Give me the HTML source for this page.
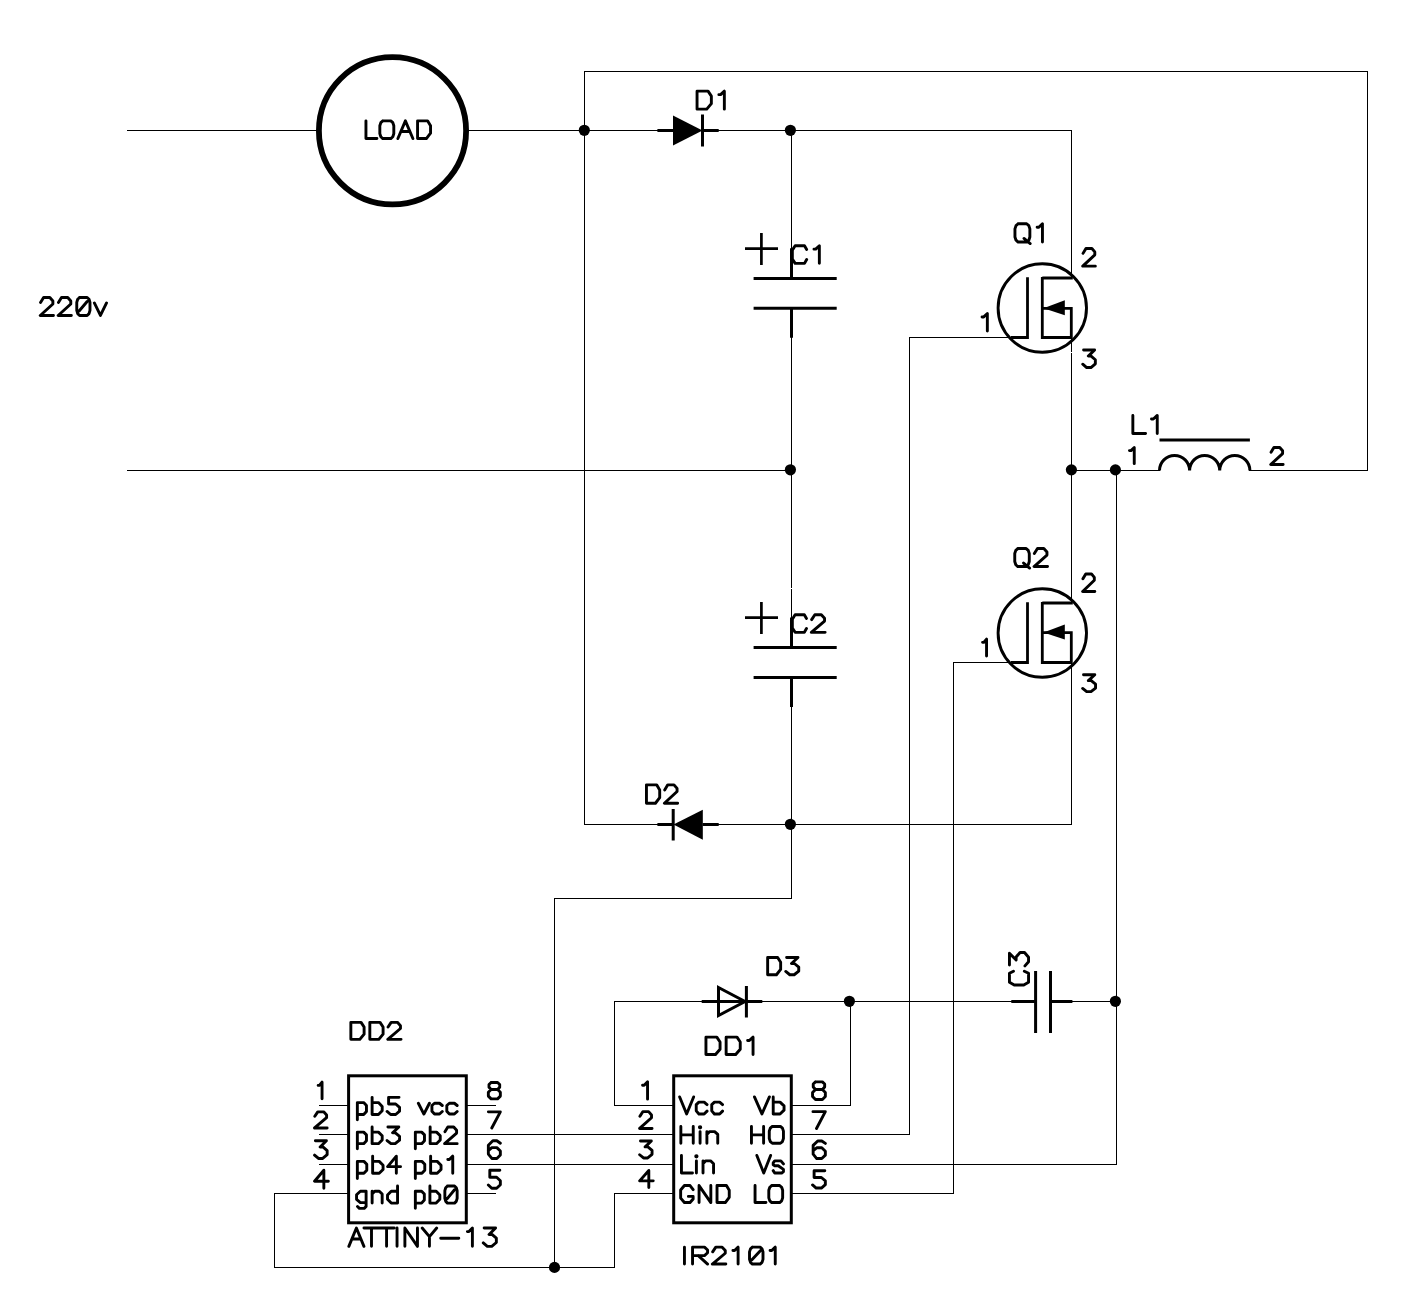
<!DOCTYPE html>
<html><head><meta charset="utf-8"><style>
html,body{margin:0;padding:0;background:#fff;overflow:hidden;}
svg{display:block;}
text{font-family:"Liberation Sans",sans-serif;fill:#000;}
</style></head><body>
<svg width="1410" height="1313" viewBox="0 0 1410 1313">
<rect width="1410" height="1313" fill="#fff"/>
<path d="M127 130.5H317M468 130.5H658M718 130.5H1072M584 71.5H1368M127 470.5H792M1071 470.5H1160M1249 470.5H1368M909 337.5H1012M953 662.5H1012M584 824.5H658M718 824.5H1072M554 898.5H792M614 1001.5H702M762 1001.5H1012M1072 1001.5H1117M319 1105.5H349M319 1134.5H349M319 1164.5H349M274 1193.5H349M466 1105.5H496M466 1134.5H674M466 1164.5H674M466 1193.5H496M614 1105.5H674M614 1193.5H674M791 1105.5H851M791 1134.5H910M791 1164.5H1117M791 1193.5H954M274 1267.5H615M584.5 71V825M791.5 130V249M791.5 337V618M791.5 706V899M1071.5 130V279M1071.5 337V604M1071.5 662V825M1367.5 71V471M1116.5 470V1165M909.5 337V1135M953.5 662V1194M554.5 898V1268M614.5 1001V1106M614.5 1193V1268M850.5 1001V1106M274.5 1193V1268" stroke="#000" stroke-width="1" fill="none" shape-rendering="crispEdges"/>
<path d="M791 588h1v1h-1zM1071 352h1v1h-1z" fill="#fff"/>
<circle cx="584.3" cy="130.3" r="5.6" fill="#000"/>
<circle cx="790.4" cy="130.3" r="5.6" fill="#000"/>
<circle cx="790.4" cy="469.8" r="5.6" fill="#000"/>
<circle cx="1071.4" cy="469.85" r="5.6" fill="#000"/>
<circle cx="1115.4" cy="469.9" r="5.6" fill="#000"/>
<circle cx="790.4" cy="824.3" r="5.6" fill="#000"/>
<circle cx="849.4" cy="1001.3" r="5.6" fill="#000"/>
<circle cx="1115.4" cy="1001.3" r="5.6" fill="#000"/>
<circle cx="554.5" cy="1267.4" r="5.6" fill="#000"/>
<circle cx="392.5" cy="130.8" r="73.6" stroke="#000" fill="none" stroke-width="5.8"/>
<path d="M657.4 130.5H673M702.5 130.5H718.7M702.5 114.5V146.5" stroke="#000" fill="none" stroke-width="3"/>
<path d="M673 115.5L702.5 130.5L673 145.5Z" fill="#000"/>
<path d="M657.4 824.5H673M702.6 824.5H718.7M673.2 809.0V840.5" stroke="#000" fill="none" stroke-width="3"/>
<path d="M702.8 809.7L673.5 824.5L702.8 839.7Z" fill="#000"/>
<path d="M701.7 1001.5H762.3M746.4 986.0V1017.5" stroke="#000" fill="none" stroke-width="3"/>
<path d="M718.5 987.5L745 1001.5L718.5 1015.5Z" stroke="#000" fill="none" stroke-width="3" stroke-linejoin="miter"/>
<path d="M745 248.6H778M761.4 233V265" stroke="#000" fill="none" stroke-width="2.7"/>
<path d="M753.6 278.4H836.7M753.6 308.3H836.7" stroke="#000" fill="none" stroke-width="3"/>
<path d="M791.5 248.3V278.4M791.5 308.3V337.8" stroke="#000" fill="none" stroke-width="3"/>
<path d="M745 617.7H778M761.4 602.1V634.1" stroke="#000" fill="none" stroke-width="2.7"/>
<path d="M753.6 647.5H836.7M753.6 677.4000000000001H836.7" stroke="#000" fill="none" stroke-width="3"/>
<path d="M791.5 617.4000000000001V647.5M791.5 677.4000000000001V706.9000000000001" stroke="#000" fill="none" stroke-width="3"/>
<path d="M1011.3 1001.5H1035.6M1050.5 1001.5H1072.4M1035.6 971V1033M1050.5 971V1033" stroke="#000" fill="none" stroke-width="3"/>
<circle cx="1042.3" cy="308" r="44.2" stroke="#000" fill="none" stroke-width="2.9"/>
<path d="M1011 337.5H1027.5V277.2M1042.3 277V339M1042.3 278H1072.8M1042.3 337.5H1071.3V308.3H1042.3" stroke="#000" fill="none" stroke-width="2.8"/>
<path d="M1043.5 308.3L1064.8 300.3V315.3Z" fill="#000"/>
<circle cx="1042.3" cy="633" r="44.2" stroke="#000" fill="none" stroke-width="2.9"/>
<path d="M1011 662.5H1027.5V602.2M1042.3 602V664M1042.3 603H1072.8M1042.3 662.5H1071.3V632.5999999999999H1042.3" stroke="#000" fill="none" stroke-width="2.8"/>
<path d="M1043.5 632.5999999999999L1064.8 624.5999999999999V639.5999999999999Z" fill="#000"/>
<path d="M1159.5 470.5A15 15 0 0 1 1189.6 470.5A15 15 0 0 1 1219.7 470.5A15 15 0 0 1 1249.9 470.5" stroke="#000" fill="none" stroke-width="3"/>
<path d="M1159.5 440.1H1249.9" stroke="#000" fill="none" stroke-width="3"/>
<rect x="673.7" y="1075.8" width="117.6" height="147" stroke="#000" fill="none" stroke-width="3"/>
<rect x="348.6" y="1075.8" width="117.7" height="147" stroke="#000" fill="none" stroke-width="3"/>
<path d="M365.95 120.85L365.95 138.55L376.93 138.55M382.82 120.85L390.81 120.85L392.81 122.62L393.81 125.77L393.81 133.63L392.81 136.78L390.81 138.55L382.82 138.55L380.83 136.78L379.83 133.63L379.83 125.77L380.83 122.62L382.82 120.85M397.90 138.55L405.39 120.85L412.88 138.55M400.90 131.47L409.88 131.47M417.57 120.85L427.55 120.85L430.55 125.77L430.55 133.14L426.36 138.55L417.57 138.55L417.57 120.85M697.05 91.15L708.06 91.15L711.36 96.15L711.36 103.65L706.74 109.15L697.05 109.15L697.05 91.15M718.85 94.65L720.61 94.65L724.35 91.15L724.35 109.15M806.66 249.47L804.51 245.75L795.15 245.75L792.35 250.15L792.35 258.95L795.15 263.35L804.51 263.35L806.66 259.44M813.97 249.17L815.69 249.17L819.35 245.75L819.35 263.35M806.47 618.47L804.34 614.75L795.11 614.75L792.35 619.15L792.35 627.95L795.11 632.35L804.34 632.35L806.47 628.44M811.65 619.64L814.85 614.75L821.35 614.75L824.55 618.17L824.55 621.11L811.35 632.35L825.15 632.35M1018.15 223.75L1026.67 223.75L1028.81 225.58L1029.87 228.83L1029.87 236.95L1028.81 240.20L1026.67 242.03L1018.15 242.03L1016.02 240.20L1014.95 236.95L1014.95 228.83L1016.02 225.58L1018.15 223.75M1024.01 238.47L1030.19 243.55M1037.12 227.30L1038.83 227.30L1042.45 223.75L1042.45 242.03M1083.02 253.37L1085.95 248.45L1091.88 248.45L1094.80 251.89L1094.80 254.84L1082.75 266.15L1095.35 266.15M1083.58 349.95L1094.63 349.95L1088.33 356.11L1091.12 356.11L1095.35 359.73L1095.35 363.83L1090.91 367.55L1086.67 367.55L1082.75 364.23M982.05 316.93L983.75 316.93L987.35 313.55L987.35 330.95M1017.86 548.55L1026.17 548.55L1028.24 550.35L1029.28 553.55L1029.28 561.55L1028.24 564.75L1026.17 566.55L1017.86 566.55L1015.79 564.75L1014.75 561.55L1014.75 553.55L1015.79 550.35L1017.86 548.55M1023.57 563.05L1029.59 568.05M1034.35 553.55L1037.48 548.55L1043.83 548.55L1046.96 552.05L1046.96 555.05L1034.06 566.55L1047.55 566.55M1082.92 578.84L1085.74 573.95L1091.49 573.95L1094.32 577.37L1094.32 580.31L1082.65 591.55L1094.85 591.55M1083.50 674.75L1094.81 674.75L1088.36 680.66L1091.21 680.66L1095.55 684.14L1095.55 688.08L1091.00 691.65L1086.67 691.65L1082.65 688.46M982.55 642.36L983.83 642.36L986.55 639.05L986.55 656.05M1132.85 415.45L1132.85 433.55L1145.57 433.55M1151.47 418.97L1153.32 418.97L1157.25 415.45L1157.25 433.55M1129.45 450.60L1130.99 450.60L1134.25 447.45L1134.25 463.65M1271.02 452.17L1273.89 447.45L1279.74 447.45L1282.61 450.76L1282.61 453.59L1270.75 464.45L1283.15 464.45M40.54 302.45L43.60 297.45L49.83 297.45L52.89 300.95L52.89 303.95L40.25 315.45L53.47 315.45M58.43 302.45L61.50 297.45L67.73 297.45L70.79 300.95L70.79 303.95L58.15 315.45L71.37 315.45M79.59 297.45L87.14 297.45L89.03 299.25L89.98 302.45L89.98 310.45L89.03 313.65L87.14 315.45L79.59 315.45L77.70 313.65L76.76 310.45L76.76 302.45L77.70 299.25L79.59 297.45M79.12 310.95L87.14 301.45M94.35 302.95L100.45 315.45L106.55 302.95M646.45 784.85L656.65 784.85L659.70 789.96L659.70 797.63L655.42 803.25L646.45 803.25L646.45 784.85M664.68 789.96L667.76 784.85L674.00 784.85L677.07 788.43L677.07 791.49L664.40 803.25L677.65 803.25M767.65 957.45L777.65 957.45L780.65 962.26L780.65 969.46L776.45 974.75L767.65 974.75L767.65 957.45M786.60 957.45L798.00 957.45L791.50 963.50L794.38 963.50L798.75 967.06L798.75 971.10L794.17 974.75L789.80 974.75L785.75 971.48M705.95 1037.15L716.80 1037.15L720.06 1041.98L720.06 1049.23L715.50 1054.55L705.95 1054.55L705.95 1037.15M726.14 1037.15L736.99 1037.15L740.24 1041.98L740.24 1049.23L735.69 1054.55L726.14 1054.55L726.14 1037.15M747.62 1040.53L749.36 1040.53L753.05 1037.15L753.05 1054.55M642.55 1085.21L644.15 1085.21L647.55 1081.85L647.55 1099.15M639.92 1116.32L642.79 1111.65L648.64 1111.65L651.51 1114.92L651.51 1117.72L639.65 1128.45L652.05 1128.45M640.46 1140.95L651.34 1140.95L645.14 1146.90L647.88 1146.90L652.05 1150.39L652.05 1154.36L647.68 1157.95L643.51 1157.95L639.65 1154.74M648.81 1187.45L648.81 1170.45L639.65 1180.84L653.25 1180.84M815.50 1081.85L822.40 1081.85L824.66 1084.00L824.66 1086.93L822.40 1089.48L815.50 1089.48L813.24 1086.93L813.24 1084.00L815.50 1081.85M815.50 1089.48L822.40 1089.48L825.35 1092.41L825.35 1096.52L822.40 1099.45L815.50 1099.45L812.55 1096.52L812.55 1092.41L815.50 1089.48M812.95 1111.65L825.35 1111.65L816.49 1128.45M825.35 1143.39L821.79 1140.95L817.73 1140.95L813.15 1145.35L813.15 1154.15L816.71 1158.55L821.79 1158.55L825.35 1155.13L825.35 1151.22L821.79 1147.79L816.71 1147.79L813.15 1150.73M824.83 1170.75L814.11 1170.75L814.11 1177.48L821.40 1177.48L825.35 1180.84L825.35 1184.69L821.40 1188.05L816.19 1188.05L812.55 1184.97M679.65 1096.95L686.64 1113.95L693.63 1096.95M707.03 1104.60L704.14 1102.14L698.93 1102.14L696.23 1104.60L696.23 1110.83L698.93 1113.95L704.14 1113.95L707.03 1111.12M722.55 1104.60L719.66 1102.14L714.45 1102.14L711.75 1104.60L711.75 1110.83L714.45 1113.95L719.66 1113.95L722.55 1111.12M680.85 1126.45L680.85 1143.25M693.25 1126.45L693.25 1143.25M680.85 1134.85L693.25 1134.85M700.08 1131.58L700.08 1143.25M706.90 1131.58L706.90 1143.25M706.90 1134.38L709.69 1131.58L714.65 1131.58L717.75 1134.38L717.75 1143.25M699.38 1127.29a0.7 0.7 0 1 0 1.4 0a0.7 0.7 0 1 0 -1.4 0M681.45 1155.45L681.45 1173.05L692.48 1173.05M696.40 1160.83L696.40 1173.05M703.02 1160.83L703.02 1173.05M703.02 1163.76L705.73 1160.83L710.54 1160.83L713.55 1163.76L713.55 1173.05M695.70 1156.33a0.7 0.7 0 1 0 1.4 0a0.7 0.7 0 1 0 -1.4 0M693.15 1189.61L690.05 1185.55L684.41 1185.55L680.65 1189.99L680.65 1198.11L684.41 1202.55L690.05 1202.55L693.15 1198.96L693.15 1196.41L688.36 1196.41M699.07 1202.55L699.07 1185.55L710.83 1202.55L710.83 1185.55M717.03 1185.55L726.43 1185.55L729.25 1190.27L729.25 1197.36L725.30 1202.55L717.03 1202.55L717.03 1185.55M754.45 1096.95L761.93 1113.95L769.40 1096.95M773.22 1096.95L773.22 1113.95M773.22 1102.14L780.03 1102.14L784.05 1105.92L784.05 1110.17L780.03 1113.95L773.22 1113.95M751.45 1126.45L751.45 1143.25M763.60 1126.45L763.60 1143.25M751.45 1134.85L763.60 1134.85M772.31 1126.45L780.41 1126.45L782.44 1128.13L783.45 1131.12L783.45 1138.58L782.44 1141.57L780.41 1143.25L772.31 1143.25L770.29 1141.57L769.27 1138.58L769.27 1131.12L770.29 1128.13L772.31 1126.45M756.85 1155.45L763.74 1173.05L770.62 1155.45M783.45 1163.86L780.88 1160.83L774.71 1160.83L773.19 1162.88L773.19 1164.84L774.71 1165.72L778.22 1165.72L783.45 1169.33L783.45 1171.58L781.64 1173.05L774.71 1173.05L773.19 1170.61M755.05 1185.55L755.05 1202.55L765.93 1202.55M771.77 1185.55L779.68 1185.55L781.66 1187.25L782.65 1190.27L782.65 1197.83L781.66 1200.85L779.68 1202.55L771.77 1202.55L769.79 1200.85L768.80 1197.83L768.80 1190.27L769.79 1187.25L771.77 1185.55M684.45 1247.15L684.45 1264.05M692.54 1264.05L692.54 1247.15L704.48 1247.15L707.59 1249.97L707.59 1252.78L704.48 1255.60L692.54 1255.60M698.25 1255.60L707.59 1264.05M712.66 1251.84L715.79 1247.15L722.14 1247.15L725.27 1250.44L725.27 1253.25L712.36 1264.05L725.85 1264.05M732.91 1250.44L734.57 1250.44L738.10 1247.15L738.10 1264.05M752.41 1247.15L760.11 1247.15L762.04 1248.84L763.00 1251.84L763.00 1259.36L762.04 1262.36L760.11 1264.05L752.41 1264.05L750.48 1262.36L749.51 1259.36L749.51 1251.84L750.48 1248.84L752.41 1247.15M751.92 1259.83L760.11 1250.91M770.06 1250.44L771.72 1250.44L775.25 1247.15L775.25 1264.05M350.85 1022.35L361.05 1022.35L364.11 1027.07L364.11 1034.16L359.83 1039.35L350.85 1039.35L350.85 1022.35M369.83 1022.35L380.03 1022.35L383.09 1027.07L383.09 1034.16L378.81 1039.35L369.83 1039.35L369.83 1022.35M388.07 1027.07L391.15 1022.35L397.40 1022.35L400.47 1025.66L400.47 1028.49L387.79 1039.35L401.05 1039.35M318.15 1085.40L319.40 1085.40L322.05 1082.15L322.05 1098.85M314.82 1116.32L317.75 1111.85L323.68 1111.85L326.60 1114.98L326.60 1117.66L314.55 1127.95L327.15 1127.95M315.38 1140.75L326.43 1140.75L320.13 1146.94L322.92 1146.94L327.15 1150.58L327.15 1154.71L322.71 1158.45L318.47 1158.45L314.55 1155.11M323.85 1188.25L323.85 1170.25L314.55 1181.25L328.35 1181.25M491.12 1082.45L497.58 1082.45L499.70 1084.45L499.70 1087.19L497.58 1089.56L491.12 1089.56L489.00 1087.19L489.00 1084.45L491.12 1082.45M491.12 1089.56L497.58 1089.56L500.35 1092.29L500.35 1096.12L497.58 1098.85L491.12 1098.85L488.35 1096.12L488.35 1092.29L491.12 1089.56M488.35 1111.85L500.35 1111.85L491.78 1127.95M500.35 1143.21L496.85 1140.75L492.85 1140.75L488.35 1145.17L488.35 1154.03L491.85 1158.45L496.85 1158.45L500.35 1155.01L500.35 1151.08L496.85 1147.63L491.85 1147.63L488.35 1150.58M499.86 1170.25L489.81 1170.25L489.81 1177.25L496.64 1177.25L500.35 1180.75L500.35 1184.75L496.64 1188.25L491.76 1188.25L488.35 1185.05M357.35 1102.59L357.35 1119.75M357.35 1102.59L363.68 1102.59L366.46 1105.45L366.46 1111.46L363.68 1114.51L357.35 1114.51M372.12 1097.35L372.12 1114.51M372.12 1102.59L378.45 1102.59L382.19 1106.41L382.19 1110.69L378.45 1114.51L372.12 1114.51M399.04 1097.35L388.60 1097.35L388.60 1104.02L395.70 1104.02L399.55 1107.36L399.55 1111.17L395.70 1114.51L390.63 1114.51L387.08 1111.46M418.35 1103.25L423.89 1114.05L429.44 1103.25M442.28 1105.50L439.51 1103.25L434.52 1103.25L431.93 1105.50L431.93 1111.20L434.52 1114.05L439.51 1114.05L442.28 1111.46M457.15 1105.50L454.38 1103.25L449.39 1103.25L446.80 1105.50L446.80 1111.20L449.39 1114.05L454.38 1114.05L457.15 1111.46M357.35 1132.13L357.35 1148.75M357.35 1132.13L363.68 1132.13L366.46 1134.90L366.46 1140.72L363.68 1143.67L357.35 1143.67M372.12 1127.05L372.12 1143.67M372.12 1132.13L378.45 1132.13L382.19 1135.82L382.19 1139.98L378.45 1143.67L372.12 1143.67M387.90 1127.05L398.83 1127.05L392.60 1132.87L395.36 1132.87L399.55 1136.28L399.55 1140.16L395.16 1143.67L390.97 1143.67L387.08 1140.53M415.35 1132.13L415.35 1148.75M415.35 1132.13L421.69 1132.13L424.48 1134.90L424.48 1140.72L421.69 1143.67L415.35 1143.67M430.15 1127.05L430.15 1143.67M430.15 1132.13L436.49 1132.13L440.24 1135.82L440.24 1139.98L436.49 1143.67L430.15 1143.67M444.93 1131.67L447.83 1127.05L453.71 1127.05L456.61 1130.28L456.61 1133.05L444.66 1143.67L457.15 1143.67M357.35 1161.39L357.35 1178.55M357.35 1161.39L363.90 1161.39L366.78 1164.25L366.78 1170.26L363.90 1173.31L357.35 1173.31M372.64 1156.15L372.64 1173.31M372.64 1161.39L379.20 1161.39L383.07 1165.21L383.07 1169.49L379.20 1173.31L372.64 1173.31M396.34 1173.31L396.34 1156.15L387.64 1166.64L400.55 1166.64M415.35 1161.39L415.35 1178.55M415.35 1161.39L421.90 1161.39L424.77 1164.25L424.77 1170.26L421.90 1173.31L415.35 1173.31M430.63 1156.15L430.63 1173.31M430.63 1161.39L437.17 1161.39L441.04 1165.21L441.04 1169.49L437.17 1173.31L430.63 1173.31M447.79 1159.49L449.38 1159.49L452.75 1156.15L452.75 1173.31M366.11 1191.19L366.11 1206.44L364.20 1208.35L359.42 1208.35L357.51 1206.44M366.11 1191.19L360.37 1191.19L356.55 1194.81L356.55 1199.49L360.37 1202.63L366.11 1202.63M372.13 1191.19L372.13 1203.11M372.13 1194.05L374.71 1191.19L379.30 1191.19L382.16 1194.05L382.16 1203.11M397.55 1185.95L397.55 1203.11M397.55 1191.19L391.24 1191.19L387.52 1195.01L387.52 1199.29L391.24 1203.11L397.55 1203.11M415.35 1191.19L415.35 1208.35M415.35 1191.19L421.59 1191.19L424.33 1194.05L424.33 1200.06L421.59 1203.11L415.35 1203.11M429.91 1185.95L429.91 1203.11M429.91 1191.19L436.16 1191.19L439.84 1195.01L439.84 1199.29L436.16 1203.11L429.91 1203.11M447.49 1185.95L454.52 1185.95L456.27 1187.67L457.15 1190.72L457.15 1198.34L456.27 1201.39L454.52 1203.11L447.49 1203.11L445.73 1201.39L444.86 1198.34L444.86 1190.72L445.73 1187.67L447.49 1185.95M447.05 1198.82L454.52 1189.76M348.85 1246.35L356.40 1228.05L363.94 1246.35M351.87 1239.03L360.92 1239.03M363.94 1228.05L379.03 1228.05M371.49 1228.05L371.49 1246.35M379.03 1228.05L394.13 1228.05M386.58 1228.05L386.58 1246.35M397.04 1228.05L397.04 1246.35M404.89 1246.35L404.89 1228.05L417.47 1246.35L417.47 1228.05M422.20 1228.05L429.44 1236.69L436.69 1228.05M429.44 1236.69L429.44 1246.35M440.71 1238.22L458.82 1238.22M467.37 1231.61L468.98 1231.61L472.40 1228.05L472.40 1246.35M484.13 1228.05L495.60 1228.05L489.06 1234.45L491.95 1234.45L496.35 1238.22L496.35 1242.49L491.74 1246.35L487.34 1246.35L483.27 1242.89M1013.48 971.18L1009.45 973.25L1009.45 982.26L1014.23 984.95L1023.77 984.95L1028.55 982.26L1028.55 973.25L1024.31 971.18M1009.45 965.02L1009.45 953.22L1016.13 959.95L1016.13 956.97L1020.06 952.45L1024.52 952.45L1028.55 957.19L1028.55 961.71L1024.94 965.91" stroke="#000" stroke-width="2.9" fill="none" stroke-linecap="round" stroke-linejoin="round"/>
</svg></body></html>
